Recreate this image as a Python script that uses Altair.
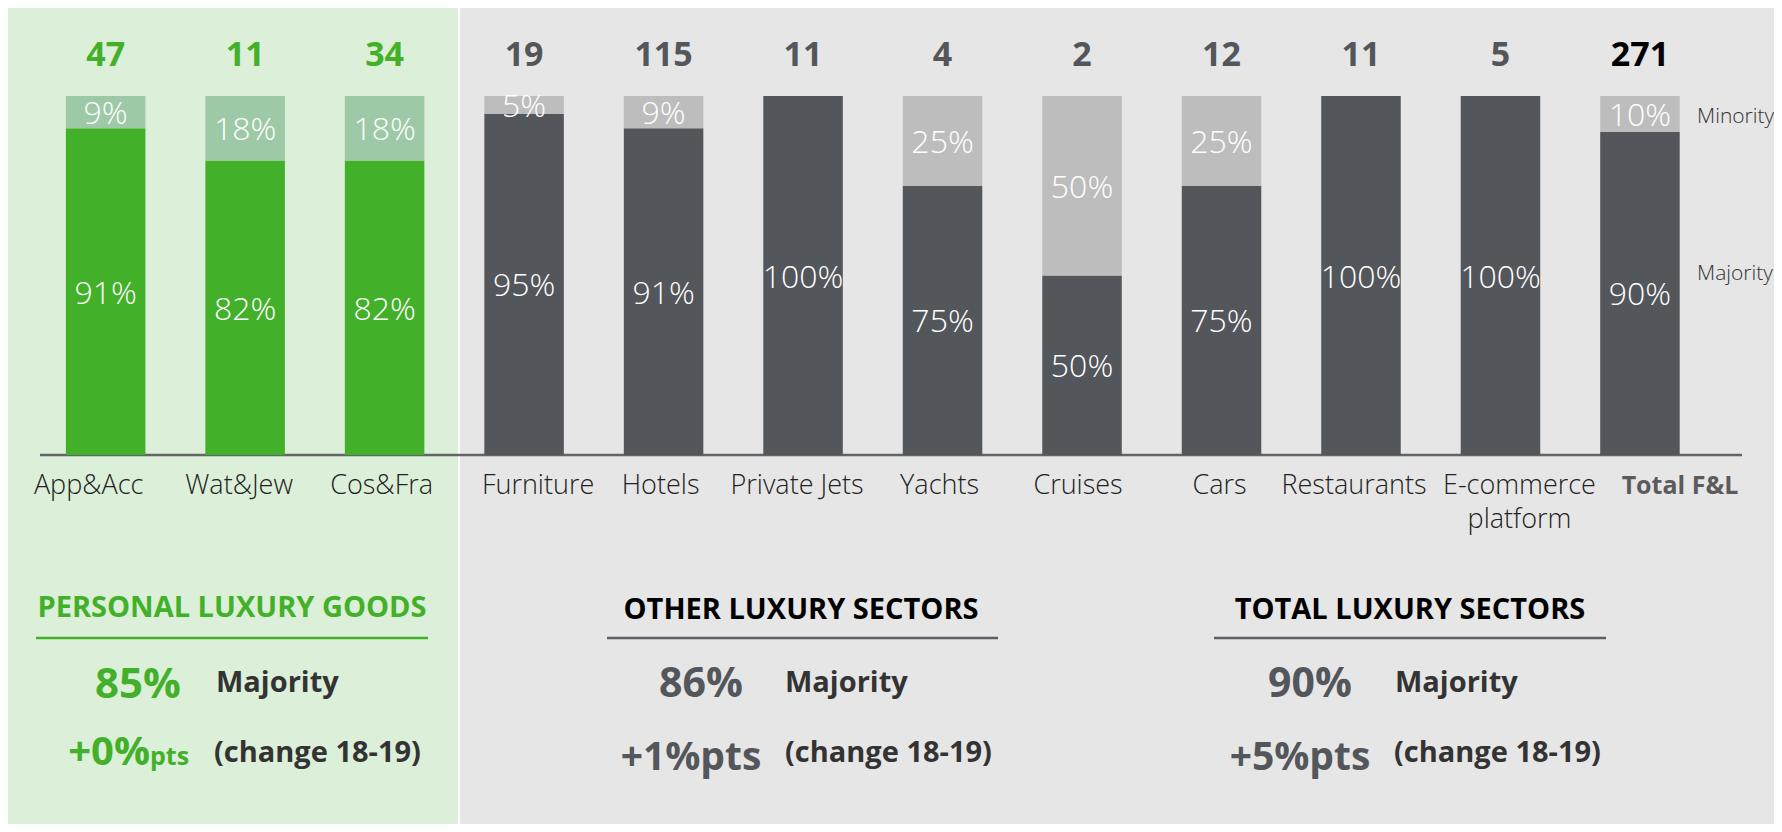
import altair as alt
import pandas as pd

# ---------------- data ----------------
categories = ["App&Acc", "Wat&Jew", "Cos&Fra", "Furniture", "Hotels", "Private Jets",
              "Yachts", "Cruises", "Cars", "Restaurants", "E-commerce platform", "Total F&L"]
axis_labels = ["App&Acc", "Wat&Jew", "Cos&Fra", "Furniture", "Hotels", "Private Jets",
               "Yachts", "Cruises", "Cars", "Restaurants", "E-commerce\nplatform", "Total F&L"]
groups = ["personal"] * 3 + ["other"] * 8 + ["total"]
counts = [47, 11, 34, 19, 115, 11, 4, 2, 12, 11, 5, 271]
majority = [91, 82, 82, 95, 91, 100, 75, 50, 75, 100, 100, 90]
minority = [9, 18, 18, 5, 9, 0, 25, 50, 25, 0, 0, 10]

summary_titles = ["PERSONAL LUXURY GOODS", "OTHER LUXURY SECTORS", "TOTAL LUXURY SECTORS"]
summary_majority = [85, 86, 90]
summary_change = [0, 1, 5]

# ---------------- tables ----------------
rows = []
for c, g, ma, mi in zip(categories, groups, majority, minority):
    fam = "green" if g == "personal" else "grey"
    rows.append(dict(category=c, seg="Majority", ckey=fam + "_maj", y0=0, y1=ma,
                     ymid=ma / 2, label=f"{ma}%", value=ma))
    rows.append(dict(category=c, seg="Minority", ckey=fam + "_min", y0=ma, y1=ma + mi,
                     ymid=ma + mi / 2, label=f"{mi}%", value=mi))
bars_df = pd.DataFrame(rows)

cat_df = pd.DataFrame(dict(category=categories, axis_label=axis_labels, group=groups,
                           count=counts))

W, H = 1766, 816
GREEN = "#43b02a"
GREY = "#53565a"
FONT = "Open Sans"

xenc = alt.X("category:N", sort=categories,
             scale=alt.Scale(domain=categories, range=[27.9, 1701.7],
                             paddingInner=0.43, paddingOuter=0.215),
             axis=None)
yscale = alt.Scale(domain=[0, 100], range=[447, 88])

one = pd.DataFrame({"a": [0]})

bg_green = alt.Chart(one).mark_rect(color="#dcefd8").encode(
    x=alt.value(0), x2=alt.value(450), y=alt.value(0), y2=alt.value(H))
bg_grey = alt.Chart(one).mark_rect(color="#e6e6e6").encode(
    x=alt.value(452), x2=alt.value(W), y=alt.value(0), y2=alt.value(H))

baseline = alt.Chart(one).mark_rule(color="#646569", strokeWidth=2.5).encode(
    x=alt.value(32), x2=alt.value(1734), y=alt.value(447))

bars = alt.Chart(bars_df).mark_bar().encode(
    x=xenc,
    y=alt.Y("y0:Q", scale=yscale, axis=None),
    y2="y1:Q",
    color=alt.Color("ckey:N", legend=None,
                    scale=alt.Scale(domain=["green_maj", "green_min", "grey_maj", "grey_min"],
                                    range=[GREEN, "#9dc9a6", GREY, "#bdbdbd"])),
)

pct = alt.Chart(bars_df).transform_filter("datum.value > 0").mark_text(
    font=FONT, fontSize=32, fontWeight=300, color="white", baseline="middle", dy=2).encode(
    x=xenc,
    y=alt.Y("ymid:Q", scale=yscale, axis=None),
    text="label:N",
)

count_txt = alt.Chart(cat_df).mark_text(
    font=FONT, fontSize=34, fontWeight="bold", baseline="middle").encode(
    x=xenc,
    y=alt.value(48),
    text="count:Q",
    color=alt.Color("group:N", legend=None,
                    scale=alt.Scale(domain=["personal", "other", "total"],
                                    range=[GREEN, GREY, "#000000"])),
)

# horizontal nudges of the category labels (style only)
label_dx = {"App&Acc": -17, "Wat&Jew": -6, "Cos&Fra": -3, "Furniture": 14, "Hotels": -3,
            "Private Jets": -6, "Yachts": -3, "Cruises": -4, "Cars": -2,
            "Restaurants": -7, "E-commerce platform": 19, "Total F&L": 40}

xlab_layers = []
for cat in categories:
    is_total = cat == "Total F&L"
    xlab_layers.append(
        alt.Chart(cat_df).transform_filter(alt.datum.category == cat).mark_text(
            font=FONT, fontSize=25 if is_total else 27,
            fontWeight="bold" if is_total else 300,
            color="#5b5b5b" if is_total else "#222222",
            baseline="top", lineBreak="\n", lineHeight=34, dx=label_dx[cat]).encode(
            x=xenc,
            y=alt.value(466 if is_total else 465),
            text="axis_label:N",
        )
    )


def txt(s, x, y, size, color, weight="bold", align="center", base="middle"):
    return alt.Chart(one).mark_text(text=s, font=FONT, fontSize=size, fontWeight=weight,
                                    color=color, align=align, baseline=base).encode(
        x=alt.value(x), y=alt.value(y))


def hline(x1, x2, y, color):
    return alt.Chart(one).mark_rule(color=color, strokeWidth=2.5).encode(
        x=alt.value(x1), x2=alt.value(x2), y=alt.value(y))


legend_layers = [
    txt("Minority", 1689, 109, 21, "#333333", weight=300, align="left"),
    txt("Majority", 1689, 266, 21, "#333333", weight=300, align="left"),
]

t0, t1, t2 = summary_titles
m0, m1, m2 = summary_majority
c0, c1, c2 = summary_change
summary_layers = [
    # personal luxury goods
    txt(t0, 224, 600, 29, GREEN),
    hline(28, 420, 630, GREEN),
    txt(f"{m0}%", 130, 677, 42, GREEN),
    txt("Majority", 208, 675, 29, "#333333", align="left"),
    txt(f"+{c0}%", 142, 757, 40, GREEN, align="right", base="alphabetic"),
    txt("pts", 142, 757, 25, GREEN, align="left", base="alphabetic"),
    txt("(change 18-19)", 206, 745, 29, "#333333", align="left"),
    # other luxury sectors
    txt(t1, 793, 602, 29, "#000000"),
    hline(599, 990, 630, "#5e5e66"),
    txt(f"{m1}%", 693, 677, 41, GREY),
    txt("Majority", 777, 675, 29, "#333333", align="left"),
    txt(f"+{c1}%pts", 683, 750, 39, GREY),
    txt("(change 18-19)", 777, 745, 29, "#333333", align="left"),
    # total luxury sectors
    txt(t2, 1402, 602, 29, "#000000"),
    hline(1206, 1598, 630, "#5e5e66"),
    txt(f"{m2}%", 1302, 677, 41, GREY),
    txt("Majority", 1387, 675, 29, "#333333", align="left"),
    txt(f"+{c2}%pts", 1292, 750, 39, GREY),
    txt("(change 18-19)", 1386, 745, 29, "#333333", align="left"),
]

chart = alt.layer(
    bg_green, bg_grey, baseline, bars, pct, count_txt, *xlab_layers,
    *legend_layers, *summary_layers
).resolve_scale(color="independent").properties(
    width=W, height=H, padding=0, autosize=alt.AutoSizeParams(type="none"),
    background="white"
).configure_view(stroke=None)

chart.save("out.html", embed_options={"renderer": "svg", "actions": False})
